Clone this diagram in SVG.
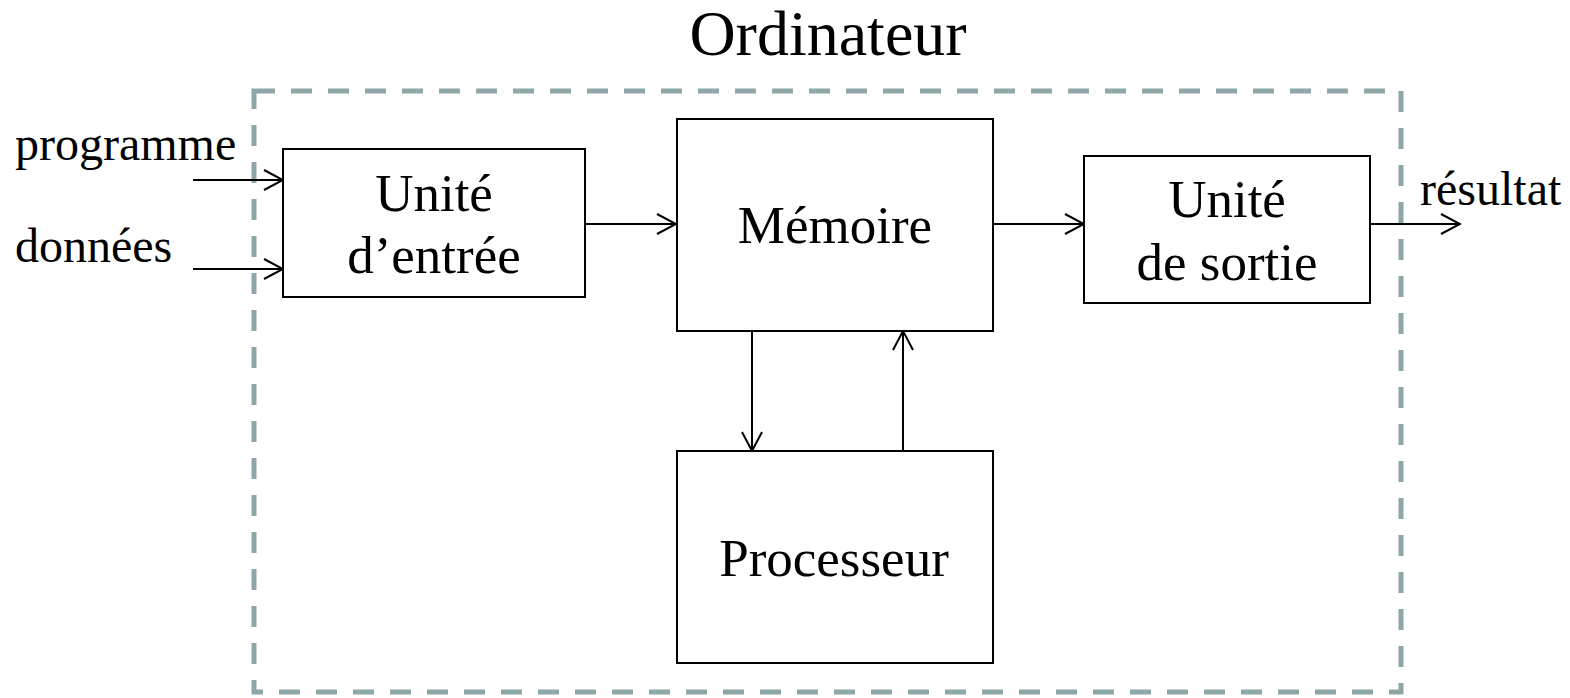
<svg xmlns="http://www.w3.org/2000/svg" width="1570" height="698" viewBox="0 0 1570 698">
<defs>
<marker id="arr" viewBox="0 0 22 22" refX="20" refY="11" markerWidth="22" markerHeight="22" markerUnits="userSpaceOnUse" orient="auto">
<path d="M1,1 L20,11 L1,21" fill="none" stroke="#000" stroke-width="2"/>
</marker>
<style>
.box{fill:#fff;stroke:#000;stroke-width:2}
.t{font-family:"Liberation Serif","Times New Roman",serif;fill:#000}
.big{font-size:53px;text-anchor:middle}
.lbl{font-size:48px}
.con{stroke:#000;stroke-width:2;fill:none;marker-end:url(#arr)}
</style>
</defs>
<rect width="1570" height="698" fill="#fff"/>
<g id="ordinateur">
<rect x="254" y="91" width="1147" height="601" fill="none" stroke="#8fa6a8" stroke-width="5" stroke-dasharray="21 16"/>
<text class="t" x="828" y="55" font-size="64" text-anchor="middle">Ordinateur</text>
</g>
<g id="connectors">
<line class="con" x1="193" y1="180" x2="283" y2="180"/>
<line class="con" x1="193" y1="269" x2="283" y2="269"/>
<line class="con" x1="586" y1="224" x2="676" y2="224"/>
<line class="con" x1="993" y1="224" x2="1084" y2="224"/>
<line class="con" x1="1370" y1="224" x2="1460" y2="224"/>
<line class="con" x1="752" y1="331" x2="752" y2="451"/>
<line class="con" x1="903" y1="451" x2="903" y2="331"/>
</g>
<g id="entree">
<rect class="box" x="283" y="149" width="302" height="148"/>
<text class="t big" x="434" y="211">Unité</text>
<text class="t big" x="434" y="273">d’entrée</text>
</g>
<g id="memoire">
<rect class="box" x="677" y="119" width="316" height="212"/>
<text class="t big" x="835" y="243">Mémoire</text>
</g>
<g id="processeur">
<rect class="box" x="677" y="451" width="316" height="212"/>
<text class="t big" x="834" y="576">Processeur</text>
</g>
<g id="sortie">
<rect class="box" x="1084" y="156" width="286" height="147"/>
<text class="t big" x="1227" y="217">Unité</text>
<text class="t big" x="1227" y="280">de sortie</text>
</g>
<g id="labels">
<text class="t lbl" x="15" y="160">programme</text>
<text class="t lbl" x="15" y="262">données</text>
<text class="t lbl" x="1420" y="205">résultat</text>
</g>
</svg>
